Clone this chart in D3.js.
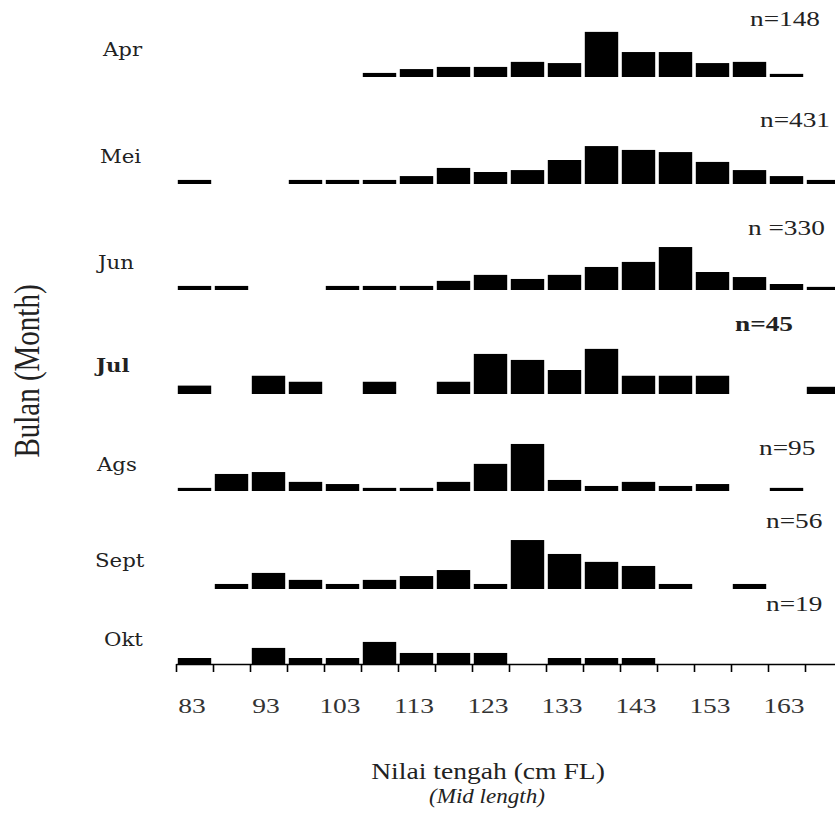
<!DOCTYPE html>
<html>
<head>
<meta charset="utf-8">
<script src="https://cdn.jsdelivr.net/npm/d3@7"></script>
<style>
    body { margin: 0; background: #fff; }
    svg { display: block; }
</style>
</head>
<body>
<svg id="chart" width="835" height="825"></svg>
<script>
// mid length classes (cm FL), 5 cm wide
const midLengths = [83, 88, 93, 98, 103, 108, 113, 118, 123, 128, 133, 138, 143, 148, 153, 158, 163, 168];
const tickLabels = [83, 93, 103, 113, 123, 133, 143, 153, 163];

const months = ["Apr", "Mei", "Jun", "Jul", "Ags", "Sept", "Okt"];
const sampleSizes = ["n=148", "n=431", "n =330", "n=45", "n=95", "n=56", "n=19"];

// relative frequency (%) per class, 0 = no bar
const aprFreq = [0, 0, 0, 0, 0, 1.7, 3.3, 4.2, 4.2, 6.3, 5.8, 18.8, 10.4, 10.4, 5.8, 6.3, 1.3, 0];
const meiFreq = [1.7, 0, 0, 1.7, 1.7, 1.7, 3.3, 6.7, 5.0, 5.8, 10.0, 15.8, 14.2, 13.3, 9.2, 5.8, 3.3, 1.7];
const junFreq = [1.7, 1.7, 0, 0, 1.7, 1.7, 1.7, 3.8, 6.3, 4.6, 6.3, 9.6, 11.7, 17.9, 7.5, 5.4, 2.5, 1.3];
const julFreq = [3.5, 0, 7.6, 5.1, 0, 5.1, 0, 5.1, 16.7, 14.2, 10.0, 18.8, 7.6, 7.6, 7.6, 0, 0, 3.0];
const agsFreq = [1.3, 7.1, 7.9, 3.8, 2.9, 1.3, 1.3, 3.8, 11.3, 19.6, 4.6, 2.1, 3.8, 2.1, 2.9, 0, 1.3, 0];
const septFreq = [0, 2.1, 6.7, 3.8, 2.1, 3.8, 5.4, 7.9, 2.1, 20.4, 14.6, 11.3, 9.6, 2.1, 0, 2.1, 0, 0];
const oktFreq = [2.5, 0, 6.7, 2.5, 2.5, 9.2, 4.6, 4.6, 4.6, 0, 2.5, 2.5, 2.5, 0, 0, 0, 0, 0];

const freqs = [aprFreq, meiFreq, junFreq, julFreq, agsFreq, septFreq, oktFreq];

// layout (the panels are not evenly spaced in the original)
const panelBase = [77, 184, 290, 394, 491, 589, 664];
const monthPos = [[103, 56], [100, 163], [98, 269], [96, 372], [97, 471], [95, 567], [104, 646]];
const nPos = [[750, 26], [760, 127], [748, 235], [735, 331], [759, 455], [766, 528], [766, 611]];

const svg = d3.select("#chart");
const serif = "'Liberation Serif', 'Times New Roman', serif";
const slab = "'DejaVu Serif', serif";

const xScale = d3.scaleLinear()
    .domain([midLengths[0] - 2.5, midLengths[midLengths.length - 1] + 2.5])
    .range([176, 842]);
const yScale = d3.scaleLinear().domain([0, 20]).range([0, 48]);
const barGap = 1.8;

function place(sel, x, y, sx) {
    sel.attr("transform", "translate(" + x + "," + y + ") scale(" + sx + ",1)");
}

freqs.forEach(function (freq, i) {
    let base = panelBase[i];
    let rows = midLengths.map(function (m, j) { return {mid: m, v: freq[j]}; })
        .filter(function (d) { return d.v > 0; });

    svg.append("g")
        .attr("class", "panel")
        .selectAll("rect")
        .data(rows)
        .join("rect")
        .attr("x", function (d) { return xScale(d.mid - 2.5) + barGap; })
        .attr("width", function (d) { return xScale(d.mid + 2.5) - xScale(d.mid - 2.5) - 2 * barGap; })
        .attr("y", function (d) { return base - yScale(d.v); })
        .attr("height", function (d) { return yScale(d.v); })
        .style("fill", "#000");

    let label = svg.append("text")
        .text(months[i])
        .style("font-family", slab)
        .style("font-size", "19px")
        .style("font-weight", months[i] === "Jul" ? "bold" : "normal")
        .style("fill", "#222");
    place(label, monthPos[i][0], monthPos[i][1], 1.12);

    let nLabel = svg.append("text")
        .text(sampleSizes[i])
        .style("font-family", serif)
        .style("font-size", "21px")
        .style("font-weight", months[i] === "Jul" ? "bold" : "normal")
        .style("fill", "#222");
    place(nLabel, nPos[i][0], nPos[i][1], 1.3);
});

// x axis under the last panel: ticks on class limits, labels on mid lengths
const axisY = panelBase[panelBase.length - 1];
const edges = midLengths.map(function (m) { return m - 2.5; });

const edgeAxis = svg.append("g")
    .attr("class", "axis x-axis")
    .attr("transform", "translate(0," + axisY + ")")
    .call(d3.axisBottom(xScale).tickValues(edges).tickSize(8).tickSizeOuter(0).tickFormat(""));
edgeAxis.selectAll("path, line").style("stroke", "#000").style("stroke-width", 1.6);

const labelAxis = svg.append("g")
    .attr("class", "axis x-labels")
    .attr("transform", "translate(0," + axisY + ")")
    .call(d3.axisBottom(xScale).tickValues(tickLabels).tickSize(0).tickFormat(d3.format("d")));
labelAxis.select(".domain").remove();
labelAxis.selectAll("text")
    .attr("y", 0)
    .attr("dy", 0)
    .attr("transform", "translate(-3,49) scale(1.25,1)")
    .style("font-family", serif)
    .style("font-size", "22px")
    .style("fill", "#333");

// axis titles
let xTitle = svg.append("text")
    .text("Nilai tengah (cm FL)")
    .attr("text-anchor", "middle")
    .style("font-family", serif)
    .style("font-size", "23px")
    .style("fill", "#222");
place(xTitle, 488, 779, 1.2);

let xSub = svg.append("text")
    .text("(Mid length)")
    .attr("text-anchor", "middle")
    .style("font-family", serif)
    .style("font-style", "italic")
    .style("font-size", "21px")
    .style("fill", "#222");
place(xSub, 487, 803, 1.1);

svg.append("text")
    .text("Bulan (Month)")
    .attr("text-anchor", "middle")
    .attr("transform", "translate(39,371) scale(1.25,1) rotate(-90)")
    .style("font-family", serif)
    .style("font-size", "29px")
    .style("fill", "#222");
</script>
</body>
</html>
